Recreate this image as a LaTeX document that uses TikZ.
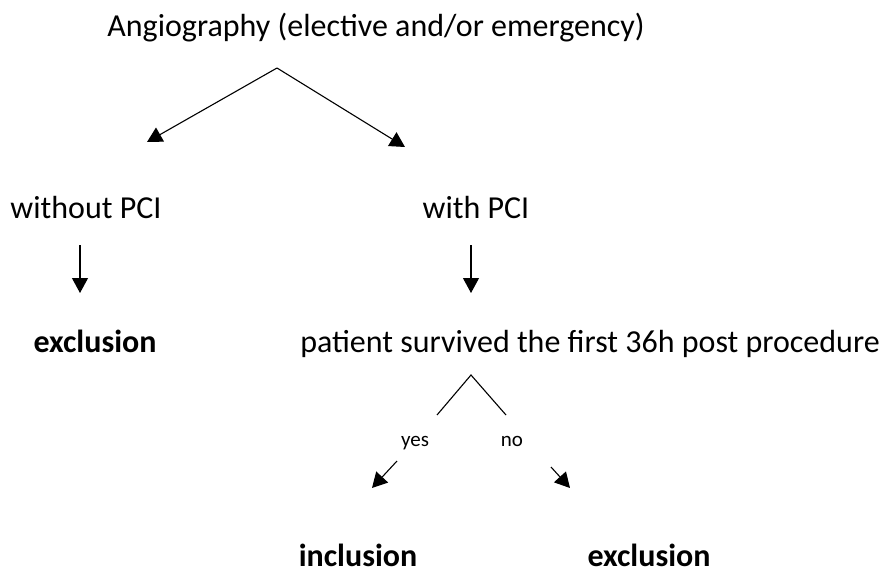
\documentclass[tikz,border=0pt]{standalone}
\usepackage{fontspec}
\setmainfont{Carlito}
\usetikzlibrary{arrows.meta}
\begin{document}
\begin{tikzpicture}%
[x=1pt,y=-1pt,every node/.style={font=\fontsize{32}{38}\selectfont, inner sep=0pt, anchor=base},
klein/.style={font=\fontsize{21}{25}\selectfont},
pfeil/.style={-{Triangle[length=15pt,width=16pt]},line width=1.1pt}]
\useasboundingbox (0,0) rectangle (886,578);
\node (angio) at (376,37) {Angiography (elective and/or emergency)};
\node (ohnePCI) at (86,218) {without PCI};
\node (mitPCI) at (476,218) {with PCI};
\node (excl1) at (95,352) {\textbf{exclusion}};
\node (survived) at (590,352) {patient survived the first 36h post procedure};
\node (yes) at (415,446) [klein] {yes};
\node (no) at (512,446) [klein] {no};
\node (incl) at (358,566) {\textbf{inclusion}};
\node (excl2) at (649,566) {\textbf{exclusion}};
\coordinate (top) at (277,68);
\coordinate (linksEnde) at (147,142);
\coordinate (rechtsEnde) at (405,147);
\coordinate (ab1) at (80,245); \coordinate (ab1Ende) at (80,293);
\coordinate (ab2) at (471,245); \coordinate (ab2Ende) at (471,293);
\coordinate (gabel) at (471,375);
\coordinate (gabelL) at (437,415); \coordinate (gabelR) at (506,415);
\coordinate (yesStart) at (397,461); \coordinate (yesEnde) at (372,488);
\coordinate (noStart) at (551,467); \coordinate (noEnde) at (570,488);
\draw [pfeil] (top) -- (linksEnde);
\draw [pfeil] (top) -- (rechtsEnde);
\draw [pfeil] (ab1) -- (ab1Ende);
\draw [pfeil] (ab2) -- (ab2Ende);
\draw [line width=1.1pt] (gabelL) -- (gabel) -- (gabelR);
\draw [pfeil] (yesStart) -- (yesEnde);
\draw [pfeil] (noStart) -- (noEnde);
\end{tikzpicture}
\end{document}
